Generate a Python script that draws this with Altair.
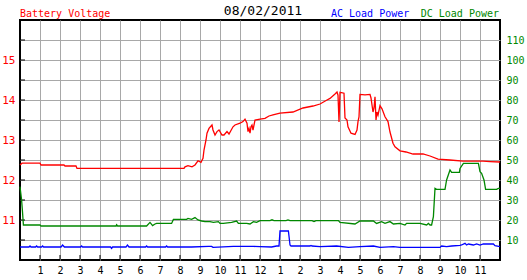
import altair as alt
import pandas as pd

# ---------------- data ----------------
volt_hours = [0, 0.1, 1.0, 1.05, 2.2, 2.25, 2.8, 2.85, 8.2, 8.25, 8.4, 8.6, 8.75, 8.9,
              9.05, 9.15, 9.2, 9.3, 9.35, 9.45, 9.6, 9.65, 9.75, 9.85, 9.95, 10.1, 10.2,
              10.35, 10.45, 10.65, 10.75, 11.0, 11.15, 11.25, 11.35, 11.4, 11.45, 11.5,
              11.55, 11.6, 11.65, 11.75, 12.0, 12.25, 12.45, 12.65, 13.0, 13.65, 14.15,
              14.65, 15.0, 15.35, 15.5, 15.75, 15.85, 15.9, 15.95, 16.0, 16.2, 16.25,
              16.35, 16.4, 16.55, 16.75, 16.85, 16.9, 16.95, 17.0, 17.25, 17.5, 17.55,
              17.65, 17.7, 17.75, 17.8, 17.85, 17.9, 18.0, 18.1, 18.25, 18.4, 18.5,
              18.65, 18.75, 19.0, 19.3, 19.65, 20.15, 20.5, 20.9, 21.5, 22.15, 23.15,
              23.5, 24.0]
volt_values = [12.375, 12.42, 12.42, 12.375, 12.375, 12.35, 12.35, 12.29, 12.29, 12.33,
               12.36, 12.33, 12.375, 12.48, 12.44, 12.54, 12.75, 13.0, 13.17, 13.29,
               13.375, 13.25, 13.125, 13.21, 13.25, 13.125, 13.125, 13.21, 13.15, 13.33,
               13.375, 13.42, 13.46, 13.52, 13.42, 13.21, 13.29, 13.17, 13.33, 13.375,
               13.25, 13.5, 13.52, 13.54, 13.6, 13.63, 13.67, 13.7, 13.8, 13.85, 13.9,
               14.0, 14.04, 14.15, 14.2, 14.12, 13.45, 14.19, 14.17, 13.55, 13.5, 13.33,
               13.17, 13.14, 13.25, 13.46, 13.58, 14.14, 14.13, 14.14, 14.05, 13.7, 13.8,
               14.08, 13.5, 13.7, 13.62, 13.86, 13.78, 13.58, 13.46, 13.2, 12.92, 12.83,
               12.73, 12.7, 12.65, 12.65, 12.6, 12.52, 12.5, 12.47, 12.47, 12.46, 12.45]

dc_hours = [0, 0.08, 0.13, 0.17, 1.0, 1.05, 4.8, 4.83, 4.88, 6.33, 6.5, 6.63, 6.75, 6.83,
            7.58, 7.67, 8.33, 8.4, 8.58, 8.75, 8.9, 9.08, 9.25, 9.5, 9.67, 9.92, 10.0,
            10.17, 10.58, 10.83, 10.92, 11.33, 11.5, 11.67, 11.83, 12.0, 12.5, 12.6, 12.7,
            13.3, 13.4, 13.5, 14.6, 14.7, 14.8, 15.92, 16.0, 16.75, 17.0, 17.67, 17.83,
            18.08, 18.25, 18.5, 18.67, 19.0, 19.25, 19.33, 20.0, 20.33, 20.42, 20.5,
            20.58, 20.67, 20.75, 20.83, 21.25, 21.33, 21.5, 21.58, 21.97, 22.0, 22.17,
            22.92, 23.0, 23.08, 23.2, 23.28, 23.83, 23.92, 24.0]
dc_values = [36.7, 30, 23.3, 17.5, 17.5, 17, 17, 17.6, 17, 17, 18.8, 17.2, 18, 18.3,
             18.3, 20.3, 20.3, 20.8, 20.3, 21.2, 20, 19.5, 19.2, 19.2, 18.8, 19.2, 18.3,
             18.3, 18.8, 19.5, 18.3, 18.3, 18, 19.2, 18.8, 19.7, 19.7, 20.1, 19.7,
             19.7, 20, 19.7, 19.7, 19.2, 19.7, 19.7, 18.8, 18, 19.5, 19.5, 18.3,
             19.2, 18.3, 19.2, 18, 18.3, 17.5, 18.3, 18.3, 17.5, 18.3, 17.5,
             17.5, 21.7, 35.8, 35.3, 35.3, 40, 45, 43.8, 43.8, 45.8, 48.3,
             48.3, 44.2, 43.3, 40, 35.3, 35.3, 35.8, 35.8]

ac_hours = [0, 0.45, 0.5, 0.55, 0.78, 0.83, 0.88, 1.08, 1.13, 1.18, 2.05, 2.13, 2.22, 3.03,
            3.08, 3.13, 4.53, 4.58, 4.63, 5.3, 5.37, 5.45, 6.28, 6.33, 6.38, 7.28, 7.33,
            7.38, 8.58, 9.42, 9.58, 9.65, 10.67, 11.67, 12.0, 12.58, 12.83, 12.95, 13.0,
            13.42, 13.5, 13.55, 14.5, 14.55, 14.6, 15.0, 15.83, 16.42, 17.0, 17.67, 18.0,
            18.67, 19.0, 21.0, 21.08, 21.33, 21.58, 22.0, 22.08, 22.25, 22.33, 22.42,
            22.67, 22.83, 23.0, 23.17, 23.67, 23.75, 24.0]
ac_values = [6.5, 6.5, 7, 6.5, 6.5, 7, 6.5, 6.5, 7, 6.5, 6.5, 7.5, 6.5, 6.5,
             7, 6.5, 6.5, 5.8, 6.5, 6.5, 7.5, 6.5, 6.5, 7, 6.5, 6.5, 7,
             6.5, 6.5, 6.8, 6.8, 6.3, 6.8, 6.8, 6.7, 6.5, 7, 7, 14.5,
             14.5, 7.5, 7, 7, 7.3, 7, 6.7, 7, 6.3, 6.7, 7, 6.3,
             6.7, 6.3, 6.3, 7, 6.7, 7, 7.3, 7.5, 8.3, 7.5, 8,
             7.5, 8, 7.5, 8, 8, 7.2, 6.7]

hour_ticks = list(range(1, 24))
volt_grid = [10.5, 11, 11.5, 12, 12.5, 13, 13.5, 14, 14.5, 15, 15.5]
power_ticks = [10, 20, 30, 40, 50, 60, 70, 80, 90, 100, 110]

title_date = "08/02/2011"
title_left = "Battery Voltage"
title_ac = "AC Load Power"
title_dc = "DC Load Power"

# ---------------- styles ----------------
FONT = "DejaVu Sans Mono"
RED = "#ff0000"
GREEN = "#008800"
BLUE = "#0000ff"
GRID = "#a8a8a8"

volt_df = pd.DataFrame({"hour": volt_hours, "volts": volt_values})
dc_df = pd.DataFrame({"hour": dc_hours, "watts": dc_values})
ac_df = pd.DataFrame({"hour": ac_hours, "watts": ac_values})
hour_df = pd.DataFrame({"hour": hour_ticks})
vgrid_df = pd.DataFrame({"volts": volt_grid})

x_scale = alt.Scale(domain=[0, 24], nice=False, zero=False)
x_axis = alt.Axis(values=hour_ticks, labelExpr="((datum.value - 1) % 12) + 1",
                  grid=True, gridColor=GRID, gridWidth=1, ticks=False, domain=False,
                  labelFont=FONT, labelFontSize=10, labelColor="black",
                  labelPadding=5, title=None, labelOverlap=False, labelFlush=False)
volt_scale = alt.Scale(domain=[10, 16], nice=False, zero=False)
volt_axis = alt.Axis(values=volt_grid, orient="left",
                     labelExpr="(datum.value % 1 == 0) ? datum.value : ''",
                     grid=True, gridColor=GRID, gridWidth=1, ticks=False, domain=False,
                     labelFont=FONT, labelFontSize=11, labelColor=RED,
                     labelPadding=5, title=None, labelOverlap=False, labelFlush=False)
power_scale = alt.Scale(domain=[0, 120], nice=False, zero=False)
power_axis = alt.Axis(values=power_ticks, orient="right", grid=False, ticks=False,
                      domain=False, labelFont=FONT, labelFontSize=10, labelColor=GREEN,
                      labelPadding=6, title=None, labelOverlap=False, labelFlush=False)

X = alt.X("hour:Q", scale=x_scale, axis=x_axis)
YV = alt.Y("volts:Q", scale=volt_scale, axis=volt_axis)
YP = alt.Y("watts:Q", scale=power_scale, axis=power_axis)

red_line = alt.Chart(volt_df).mark_line(color=RED, strokeWidth=1.3, interpolate="linear").encode(x=X, y=YV)
left_ticks = alt.Chart(vgrid_df).mark_rule(color="black", strokeWidth=1).encode(
    y=YV, x=alt.value(0), x2=alt.value(5))
bottom_ticks = alt.Chart(hour_df).mark_rule(color="black", strokeWidth=1).encode(
    x=X, y=alt.value(235), y2=alt.value(240))
left_layer = alt.layer(left_ticks, bottom_ticks, red_line)

dc_line = alt.Chart(dc_df).mark_line(color=GREEN, strokeWidth=1.3).encode(x=X, y=YP)
ac_line = alt.Chart(ac_df).mark_line(color=BLUE, strokeWidth=1.3).encode(x=X, y=YP)
right_layer = alt.layer(dc_line, ac_line)


def label(txt, color, x, y, align, size):
    return alt.Chart(pd.DataFrame({"t": [txt]})).mark_text(
        font=FONT, fontSize=size, color=color, align=align, baseline="alphabetic"
    ).encode(text="t:N", x=alt.value(x), y=alt.value(y))


texts = alt.layer(
    label(title_left, RED, 0, -3.5, "left", 10),
    label(title_date, "black", 243, -5, "center", 13),
    label(title_ac, BLUE, 311, -3.5, "left", 10),
    label(title_dc, GREEN, 479, -3.5, "right", 10),
)

chart = alt.layer(left_layer, right_layer, texts).resolve_scale(y="independent").properties(
    width=480, height=240,
    padding={"left": 20, "top": 20, "right": 27, "bottom": 20},
    autosize=alt.AutoSizeParams(type="none"),
    background="white",
).configure_view(stroke="black", strokeWidth=2)

chart.save("out.html", embed_options={"renderer": "svg", "actions": False})
